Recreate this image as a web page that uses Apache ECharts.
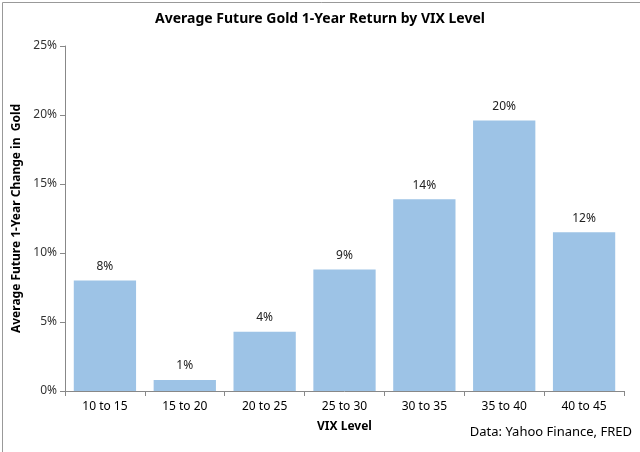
<!DOCTYPE html>
<html>
<head>
<meta charset="utf-8">
<script src="https://cdn.jsdelivr.net/npm/echarts@6/dist/echarts.min.js"></script>
<style>
  html, body { margin: 0; padding: 0; background: #fff; }
  #chart { width: 640px; height: 452px; }
</style>
</head>
<body>
<div id="chart"></div>
<script>
const categories = ['10 to 15', '15 to 20', '20 to 25', '25 to 30', '30 to 35', '35 to 40', '40 to 45']
const returns = [8.0, 0.8, 4.3, 8.8, 13.9, 19.6, 11.5]
const yTicks = [0, 5, 10, 15, 20, 25]

const font = '"Noto Sans", "Open Sans", sans-serif'
const chart = echarts.init(document.getElementById('chart'))

chart.setOption({
  animation: false,
  textStyle: { fontFamily: font },
  title: {
    text: 'Average Future Gold 1-Year Return by VIX Level',
    left: 'center',
    top: 7,
    textStyle: { fontSize: 14, fontWeight: 'bold', color: '#000', fontFamily: font }
  },
  grid: { left: 65, right: 16, top: 46, bottom: 61 },
  xAxis: {
    type: 'category',
    data: categories,
    name: 'VIX Level',
    nameLocation: 'middle',
    nameGap: 30,
    nameTextStyle: { fontSize: 12, fontWeight: 'bold', color: '#000' },
    axisLine: { lineStyle: { color: '#888' } },
    axisTick: { show: true, length: 5, lineStyle: { color: '#888' } },
    axisLabel: { fontSize: 12, color: '#000', margin: 10 }
  },
  yAxis: {
    type: 'value',
    min: yTicks[0],
    max: yTicks[yTicks.length - 1],
    interval: 5,
    name: 'Average Future 1-Year Change in  Gold',
    nameLocation: 'middle',
    nameGap: 39,
    nameTextStyle: { fontSize: 12, fontWeight: 'bold', color: '#000' },
    axisLine: { show: true, lineStyle: { color: '#888' } },
    axisTick: { show: true, length: 5, lineStyle: { color: '#888' } },
    axisLabel: { fontSize: 12, color: '#333', formatter: v => v + '%' },
    splitLine: { show: false }
  },
  series: [{
    type: 'bar',
    data: returns,
    barCategoryGap: '22%',
    itemStyle: { color: '#9DC3E6' },
    label: {
      show: true,
      position: 'top',
      distance: 8,
      fontSize: 12,
      color: '#222',
      formatter: p => Math.round(p.value) + '%'
    }
  }],
  graphic: [
    {
      type: 'text',
      right: 8,
      top: 426,
      style: { text: 'Data: Yahoo Finance, FRED', fontSize: 13, fill: '#000', fontFamily: font }
    },
    {
      type: 'rect',
      left: 0,
      top: 0,
      shape: { x: 0.5, y: 0.5, width: 639, height: 451 },
      style: { fill: 'none', stroke: '#999', lineWidth: 1 },
      silent: true
    }
  ]
})
</script>
</body>
</html>
